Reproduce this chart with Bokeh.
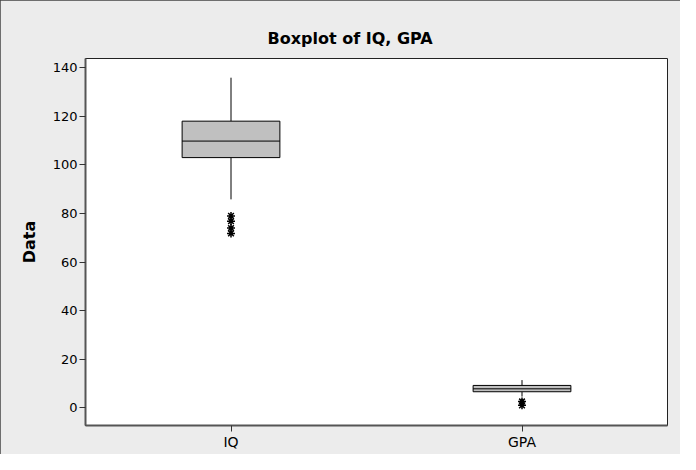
from bokeh.plotting import figure
from bokeh.models import Range1d, FixedTicker, ColumnDataSource
from bokeh.embed import file_html
from bokeh.resources import INLINE

# ---- data ----
categories = ["IQ", "GPA"]
q1 = [103.0, 6.6]
median = [109.8, 7.8]
q3 = [118.0, 9.2]
whisker_low = [85.8, 4.6]
whisker_high = [135.9, 11.4]
outlier_cat = ["IQ", "IQ", "IQ", "IQ", "GPA", "GPA"]
outlier_val = [79.0, 76.8, 74.0, 71.8, 2.6, 1.0]
y_ticks = [0, 20, 40, 60, 80, 100, 120, 140]

pos = {c: i + 1 for i, c in enumerate(categories)}
xs = [pos[c] for c in categories]
box_w = 0.336

src = ColumnDataSource(dict(x=xs, q1=q1, q2=median, q3=q3, lo=whisker_low, hi=whisker_high,
                            x0=[x - box_w / 2 for x in xs], x1=[x + box_w / 2 for x in xs]))
osrc = ColumnDataSource(dict(x=[pos[c] for c in outlier_cat], y=outlier_val))

p = figure(width=680, height=454, output_backend="svg", toolbar_location=None,
           x_range=Range1d(0.5, 2.5), y_range=Range1d(-7.3, 143.8),
           min_border_left=85, min_border_right=13, min_border_top=58, min_border_bottom=29,
           title="Boxplot of IQ, GPA")
p.background_fill_color = "white"
p.border_fill_color = "#ECECEC"
p.outline_line_color = "#222222"
p.outline_line_width = 1
p.styles = {"outline": "1px solid #444444", "outline-offset": "-1px"}

p.title.align = "left"
p.title.offset = 182
p.title.text_font = "DejaVu Sans"
p.title.text_font_style = "bold"
p.title.text_font_size = "16px"
p.title.text_color = "black"
p.title.standoff = 22

p.grid.visible = False

# whiskers
p.segment(x0="x", y0="q3", x1="x", y1="hi", source=src, line_color="black", line_width=1)
p.segment(x0="x", y0="lo", x1="x", y1="q1", source=src, line_color="black", line_width=1)
# boxes
p.quad(left="x0", right="x1", bottom="q1", top="q3", source=src,
       fill_color="#C0C0C0", line_color="black", line_width=1)
# medians
p.segment(x0="x0", y0="q2", x1="x1", y1="q2", source=src, line_color="black", line_width=1)
# outliers
p.scatter(x="x", y="y", source=osrc, marker="asterisk", size=8, line_color="black", line_width=1.5)

# axes
p.yaxis.ticker = FixedTicker(ticks=y_ticks)
p.xaxis.ticker = FixedTicker(ticks=xs)
p.xaxis.major_label_overrides = {x: c for x, c in zip(xs, categories)}
p.yaxis.axis_label = "Data"
for ax in (p.xaxis, p.yaxis):
    ax.axis_line_color = "#555555"
    ax.axis_line_width = 2
    ax.major_tick_line_color = "#333333"
    ax.major_tick_out = 6
    ax.major_tick_in = 0
    ax.minor_tick_line_color = None
    ax.major_label_text_color = "black"
    ax.major_label_text_font = "DejaVu Sans"
p.yaxis.major_label_text_font_size = "13px"
p.xaxis.major_label_text_font_size = "14px"
p.yaxis.major_label_standoff = 2
p.xaxis.major_label_standoff = 2
p.yaxis.axis_label_text_font = "DejaVu Sans"
p.yaxis.axis_label_text_font_style = "bold"
p.yaxis.axis_label_text_font_size = "16px"
p.yaxis.axis_label_text_color = "black"
p.yaxis.axis_label_standoff = 11

open("out.html", "w").write(file_html(p, INLINE))
